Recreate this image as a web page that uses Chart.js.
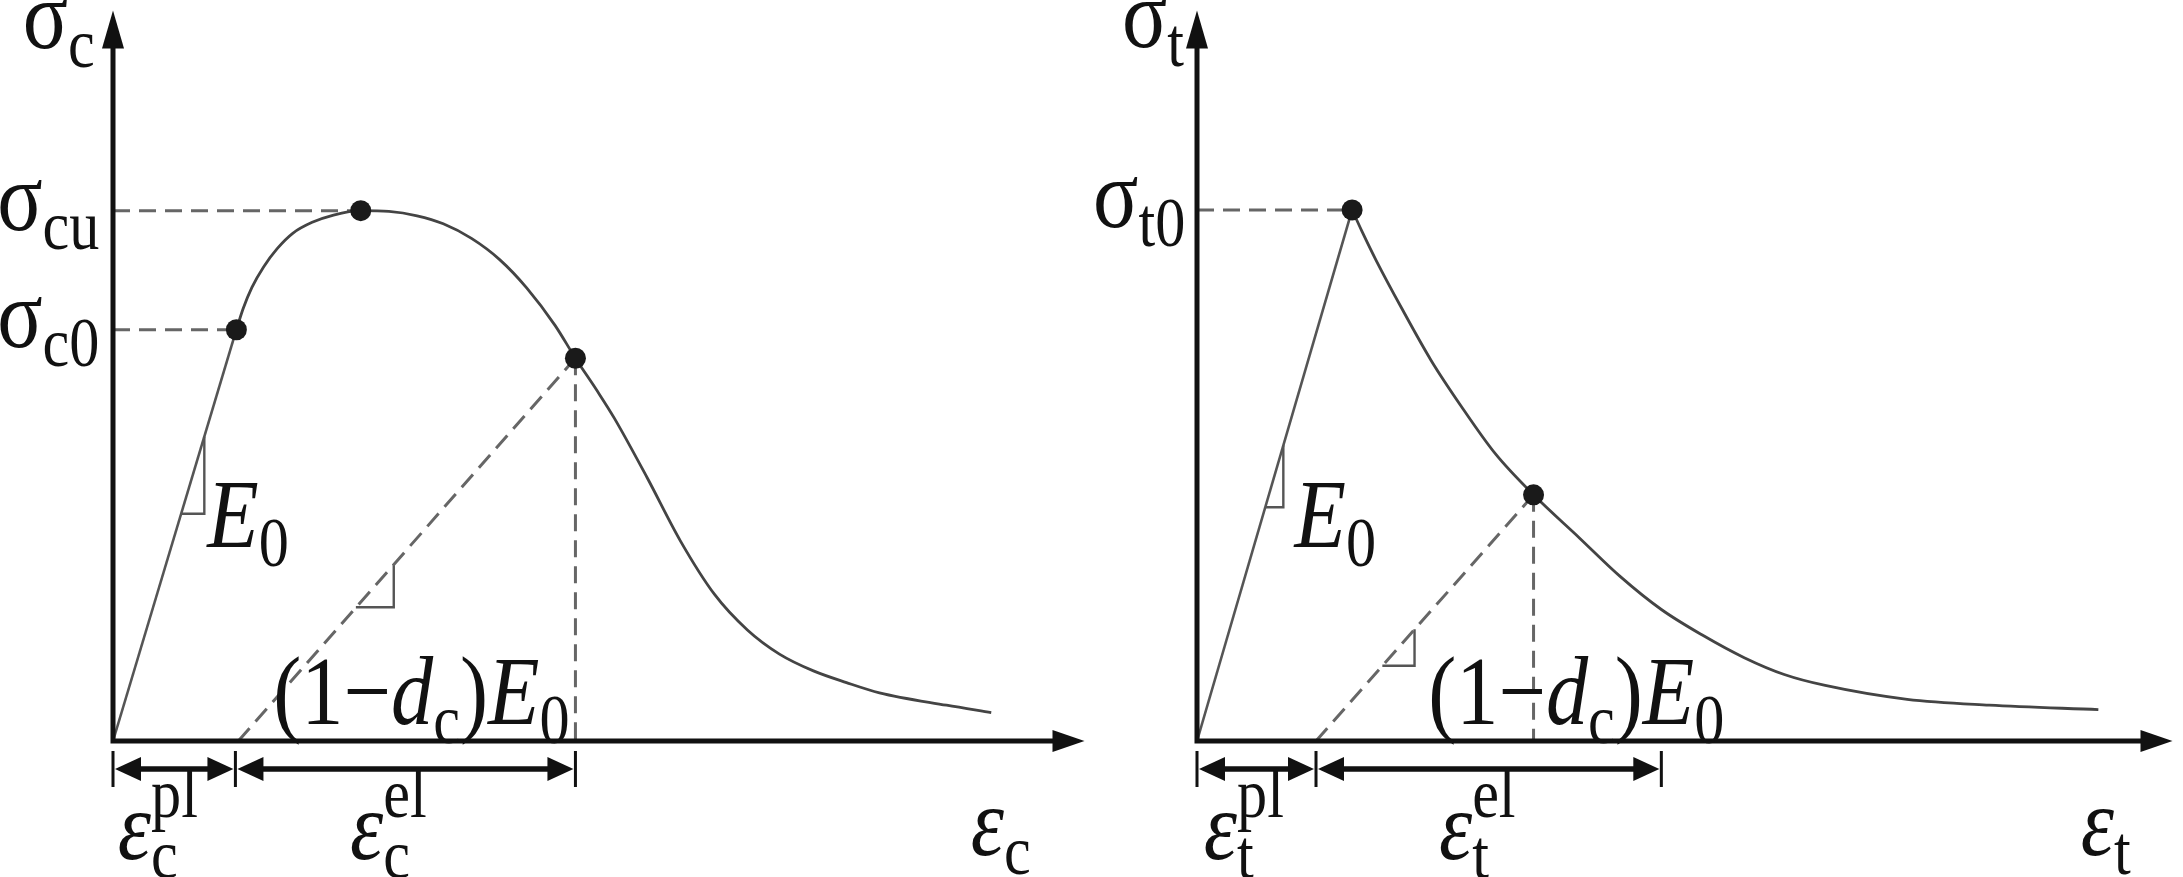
<!DOCTYPE html>
<html>
<head>
<meta charset="utf-8">
<script src="https://cdn.jsdelivr.net/npm/chart.js@4.4.0/dist/chart.umd.min.js"></script>
<style>
  html, body { margin: 0; padding: 0; background: #fff; width: 2183px; height: 877px; overflow: hidden; }
  .box { position: absolute; top: 0; height: 877px; }
  #leftBox { left: 0; width: 1095px; }
  #rightBox { left: 1080px; width: 1103px; }
</style>
</head>
<body>
<div class="box" id="leftBox"><canvas id="compChart"></canvas></div>
<div class="box" id="rightBox"><canvas id="tensChart"></canvas></div>
<script>
// --- Data (both axes in % of the drawn axis length) ---

// compression: elastic branch, then the hardening / softening curve
const compElasticStrain = [0, 12.7];
const compElasticStress = [0, 56.3];
const compCurveStrain = [12.7, 13.4, 14.3, 15.5, 16.9, 18.5, 20.5, 22.7, 25.5, 28.4, 31.3, 34.0, 36.9, 39.8, 42.6, 45.5, 47.6, 49.9, 51.6, 55.0, 58.4, 61.9, 65.3, 68.6, 72.1, 75.5, 78.9, 85.8, 90.4];
const compCurveStress = [56.3, 59.2, 62.1, 64.9, 67.4, 69.5, 71.0, 72.0, 72.6, 72.5, 71.9, 70.8, 68.8, 65.9, 62.0, 56.9, 52.4, 47.8, 44.2, 36.0, 27.4, 20.1, 15.2, 11.9, 9.6, 8.0, 6.6, 4.9, 3.9];
// marked points: sigma_c0, sigma_cu, unloading point
const compKeyStrain = [12.7, 25.5, 47.6];
const compKeyStress = [56.3, 72.6, 52.4];
// unloading line (plastic strain -> unloading point)
const compUnloadStrain = [12.9, 47.6];
const compUnloadStress = [0, 52.4];
// dimension ticks under the axis: 0, eps_pl, eps_pl + eps_el
const compDimTicks = [0, 12.6, 47.6];
// slope marks
const compE0MarkStrain = [9.4, 9.4, 7.0];
const compE0MarkStress = [41.7, 31.1, 31.1];
const compEdMarkStrain = [28.9, 28.9, 25.0];
const compEdMarkStress = [24.2, 18.3, 18.3];

// tension
const tensElasticStrain = [0, 15.9];
const tensElasticStress = [0, 72.7];
const tensCurveStrain = [15.9, 16.9, 18.4, 21.0, 24.0, 27.1, 30.6, 34.5, 39.2, 43.4, 47.6, 51.8, 56.1, 60.2, 64.4, 72.8, 81.2, 92.4];
const tensCurveStress = [72.7, 69.8, 65.7, 59.2, 52.1, 45.8, 39.3, 33.7, 27.8, 22.5, 18.0, 14.5, 11.4, 9.1, 7.6, 5.7, 4.9, 4.3];
const tensKeyStrain = [15.9, 34.5];
const tensKeyStress = [72.7, 33.7];
const tensUnloadStrain = [12.2, 34.5];
const tensUnloadStress = [0, 33.7];
const tensDimTicks = [0, 12.2, 47.6];
const tensE0MarkStrain = [8.85, 8.85, 7.0];
const tensE0MarkStress = [40.5, 32.0, 32.0];
const tensEdMarkStrain = [22.3, 22.3, 19.0];
const tensEdMarkStress = [15.3, 10.3, 10.3];

// --- Labels: [text, kind] kind: n normal, i italic, s sub, p sup, sp sub+sup ---
const compLabels = [
  { x: -9.3, y: 94.8, parts: [["σ"], ["c", "s"]] },
  { x: -1.4, y: 69.9, align: "right", parts: [["σ"], ["cu", "s"]] },
  { x: -1.4, y: 53.9, align: "right", parts: [["σ"], ["c0", "s"]] },
  { x: 9.7, y: 26.6, parts: [["E", "i"], ["0", "s"]] },
  { x: 16.5, y: 2.3, parts: [["(1−"], ["d", "i"], ["c", "s"], [")"], ["E", "i"], ["0", "s"]] },
  { x: 0.5, y: -16.2, parts: [["ε", "i"], ["c", "sp", "pl"]] },
  { x: 24.4, y: -16.2, parts: [["ε", "i"], ["c", "sp", "el"]] },
  { x: 88.3, y: -15.6, parts: [["ε", "i"], ["c", "s"]] }
];
const tensLabels = [
  { x: -7.7, y: 95.0, parts: [["σ"], ["t", "s"]] },
  { x: -1.2, y: 70.4, align: "right", parts: [["σ"], ["t0", "s"]] },
  { x: 10.0, y: 26.6, parts: [["E", "i"], ["0", "s"]] },
  { x: 23.7, y: 2.3, parts: [["(1−"], ["d", "i"], ["c", "s"], [")"], ["E", "i"], ["0", "s"]] },
  { x: 0.7, y: -16.2, parts: [["ε", "i"], ["t", "sp", "pl"]] },
  { x: 24.8, y: -16.2, parts: [["ε", "i"], ["t", "sp", "el"]] },
  { x: 90.6, y: -15.6, parts: [["ε", "i"], ["t", "s"]] }
];

// text is set slightly condensed, like the original figure
const FS = 98, SS = 70, SX = 0.86, SUB = 19, SUP = -42;
const FACE = '"Liberation Serif", "Times New Roman", serif';
const INK = "#111";
const CURVE = "#444";
const DASH = "#666";

function pts(xs, ys) {
  return xs.map((v, i) => ({ x: v, y: ys[i] }));
}

function font(size, italic) {
  return (italic ? "italic " : "") + size + "px " + FACE;
}

function partWidth(ctx, p) {
  const kind = p[1] || "n";
  if (kind === "sp") {
    ctx.font = font(SS, false);
    return SX * Math.max(ctx.measureText(p[0]).width, ctx.measureText(p[2]).width);
  }
  ctx.font = font(kind === "s" || kind === "p" ? SS : FS, kind === "i");
  return SX * ctx.measureText(p[0]).width;
}

function put(ctx, text, x, y) {
  ctx.save();
  ctx.translate(x, y);
  ctx.scale(SX, 1);
  ctx.fillText(text, 0, 0);
  ctx.restore();
}

function drawLabel(ctx, px, py, lab) {
  const widths = lab.parts.map(p => partWidth(ctx, p));
  const total = widths.reduce((a, b) => a + b, 0);
  let x = lab.align === "right" ? px - total : px;
  ctx.textBaseline = "alphabetic";
  ctx.textAlign = "left";
  lab.parts.forEach((p, i) => {
    const kind = p[1] || "n";
    if (kind === "sp") {
      ctx.font = font(SS, false);
      put(ctx, p[0], x, py + SUB);
      put(ctx, p[2], x, py + SUP);
    } else if (kind === "s" || kind === "p") {
      ctx.font = font(SS, false);
      put(ctx, p[0], x, py + (kind === "s" ? SUB : SUP));
    } else {
      ctx.font = font(FS, kind === "i");
      put(ctx, p[0], x, py);
    }
    x += widths[i];
  });
}

function tri(ctx, a, b, c) {
  ctx.beginPath();
  ctx.moveTo(a[0], a[1]);
  ctx.lineTo(b[0], b[1]);
  ctx.lineTo(c[0], c[1]);
  ctx.closePath();
  ctx.fill();
}

// axes with arrow heads, dimension arrows and the math labels
const sketchPlugin = {
  id: "sketch",
  afterDatasetsDraw(chart) {
    const { ctx, chartArea: a, scales: { x, y } } = chart;
    const opts = chart.options.plugins.sketch;
    const ox = x.getPixelForValue(0), oy = y.getPixelForValue(0);
    ctx.save();
    ctx.strokeStyle = INK;
    ctx.fillStyle = INK;
    ctx.lineCap = "butt";

    // axes
    ctx.lineWidth = 5;
    ctx.beginPath();
    ctx.moveTo(ox, oy + 2.5);
    ctx.lineTo(ox, a.top + 30);
    ctx.moveTo(ox - 2.5, oy);
    ctx.lineTo(a.right - 26, oy);
    ctx.stroke();
    tri(ctx, [ox, a.top], [ox - 11, a.top + 38], [ox + 11, a.top + 38]);
    tri(ctx, [a.right, oy], [a.right - 32, oy - 11], [a.right - 32, oy + 11]);

    // dimension arrows
    const dy = oy + opts.dimOffset;
    const xs = opts.dimTicks.map(v => x.getPixelForValue(v));
    ctx.lineWidth = 3;
    ctx.beginPath();
    xs.forEach(px => { ctx.moveTo(px, dy - 18); ctx.lineTo(px, dy + 18); });
    ctx.stroke();
    ctx.lineWidth = 5.5;
    for (let i = 0; i < xs.length - 1; i++) {
      const l = xs[i] + 2, r = xs[i + 1] - 2;
      ctx.beginPath();
      ctx.moveTo(l + 20, dy);
      ctx.lineTo(r - 20, dy);
      ctx.stroke();
      tri(ctx, [l, dy], [l + 26, dy - 12], [l + 26, dy + 12]);
      tri(ctx, [r, dy], [r - 26, dy - 12], [r - 26, dy + 12]);
    }

    // labels
    opts.labels.forEach(lab => {
      drawLabel(ctx, x.getPixelForValue(lab.x), y.getPixelForValue(lab.y), lab);
    });
    ctx.restore();
  }
};

function lineSet(data, color, width, dashed, smooth) {
  return {
    data: data,
    showLine: true,
    borderColor: color,
    borderWidth: width,
    borderDash: dashed ? [17, 9] : [],
    pointRadius: 0,
    tension: 0,
    cubicInterpolationMode: smooth ? "monotone" : "default",
    clip: false
  };
}

function makeChart(id, d) {
  const guides = d.guideIdx.map(i => lineSet(
    [{ x: 0, y: d.keyStress[i] }, { x: d.keyStrain[i], y: d.keyStress[i] }], DASH, 3, true, false));
  const last = d.keyStrain.length - 1;
  return new Chart(document.getElementById(id), {
    type: "scatter",
    data: {
      datasets: [
        {
          data: pts(d.keyStrain, d.keyStress),
          pointRadius: 10.5,
          pointBackgroundColor: "#1a1a1a",
          pointBorderWidth: 0,
          showLine: false,
          clip: false
        },
        lineSet(pts(d.curveStrain, d.curveStress), CURVE, 2.8, false, true),
        lineSet(pts(d.elasticStrain, d.elasticStress), "#555", 2.6, false, false),
        lineSet(pts(d.unloadStrain, d.unloadStress), DASH, 3, true, false),
        lineSet([{ x: d.keyStrain[last], y: d.keyStress[last] }, { x: d.keyStrain[last], y: 0 }], DASH, 3, true, false),
        ...guides,
        lineSet(pts(d.e0MarkStrain, d.e0MarkStress), "#555", 2.4, false, false),
        lineSet(pts(d.edMarkStrain, d.edMarkStress), "#555", 2.4, false, false)
      ]
    },
    options: {
      responsive: true,
      maintainAspectRatio: false,
      animation: false,
      events: [],
      layout: { padding: d.padding },
      scales: {
        x: { type: "linear", min: 0, max: 100, display: false },
        y: { type: "linear", min: 0, max: 100, display: false }
      },
      plugins: {
        legend: { display: false },
        tooltip: { enabled: false },
        sketch: { dimTicks: d.dimTicks, dimOffset: 28, labels: d.labels }
      }
    },
    plugins: [sketchPlugin]
  });
}

makeChart("compChart", {
  elasticStrain: compElasticStrain, elasticStress: compElasticStress,
  curveStrain: compCurveStrain, curveStress: compCurveStress,
  keyStrain: compKeyStrain, keyStress: compKeyStress, guideIdx: [0, 1],
  unloadStrain: compUnloadStrain, unloadStress: compUnloadStress,
  dimTicks: compDimTicks,
  e0MarkStrain: compE0MarkStrain, e0MarkStress: compE0MarkStress,
  edMarkStrain: compEdMarkStrain, edMarkStress: compEdMarkStress,
  labels: compLabels,
  padding: { left: 113, right: 6, top: 4, bottom: 136 }
});

makeChart("tensChart", {
  elasticStrain: tensElasticStrain, elasticStress: tensElasticStress,
  curveStrain: tensCurveStrain, curveStress: tensCurveStress,
  keyStrain: tensKeyStrain, keyStress: tensKeyStress, guideIdx: [0],
  unloadStrain: tensUnloadStrain, unloadStress: tensUnloadStress,
  dimTicks: tensDimTicks,
  e0MarkStrain: tensE0MarkStrain, e0MarkStress: tensE0MarkStress,
  edMarkStrain: tensEdMarkStrain, edMarkStress: tensEdMarkStress,
  labels: tensLabels,
  padding: { left: 117, right: 3, top: 4, bottom: 136 }
});
</script>
</body>
</html>
